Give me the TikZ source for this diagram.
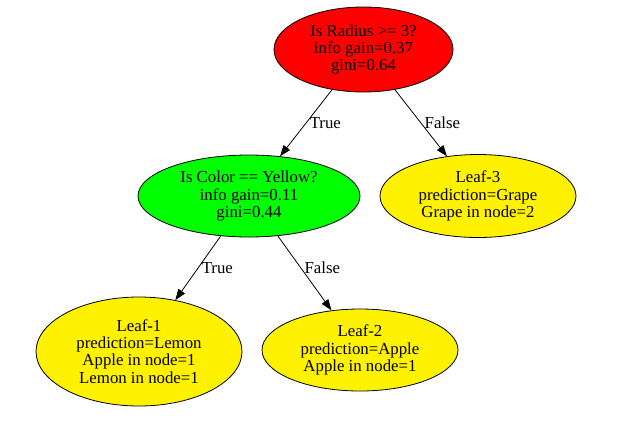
\documentclass[tikz,border=0pt]{standalone}
\usepackage{fontspec}
\setmainfont{Liberation Serif}
\usepackage{tikz}
\usetikzlibrary{
  shapes.geometric,
  arrows.meta
}
\tikzset{
  every tree node/.style={draw,ellipse,inner sep=0pt,align=center,line width=0.8pt,font=\fontsize{16.8}{17.2}\selectfont},
  branch/.style={draw,line width=0.8pt,-{Triangle[length=11pt,width=8pt]}},
  branch label/.style={right,font=\fontsize{16.8}{17.2}\selectfont},
}
\colorlet{rootSplit}{red}
\colorlet{colourSplit}{green}
\colorlet{leafNode}{yellow}

\begin{document}
\begin{tikzpicture}[
  x=1pt,y=-1pt,
  tree node/.style 2 args={every tree node,minimum width=#1,minimum height=#2},
]
\useasboundingbox (0,0) rectangle (644,421);
\node[tree node={179}{85},fill=rootSplit] (root) at (363.5,49.5) {Is Radius >= 3?\\info gain=0.37\\gini=0.64};
\node[tree node={222}{82},fill=colourSplit] (colour) at (249,196) {Is Color == Yellow?\\info gain=0.11\\gini=0.44};
\node[tree node={196}{83},fill=leafNode] (leaf3) at (478,196) {Leaf-3\\prediction=Grape\\Grape in node=2};
\node[tree node={206}{109},fill=leafNode] (leaf1) at (139,351.5) {Leaf-1\\prediction=Lemon\\Apple in node=1\\Lemon in node=1};
\node[tree node={196}{82},fill=leafNode] (leaf2) at (360,350) {Leaf-2\\prediction=Apple\\Apple in node=1};
\foreach \from/\to/\answer/\where in {root/colour/True/0.5,root/leaf3/False/0.5,colour/leaf1/True/0.5,colour/leaf2/False/0.43}
  \draw[branch] (\from) -- node[branch label,pos=\where]{\answer} (\to);
\end{tikzpicture}
\end{document}
